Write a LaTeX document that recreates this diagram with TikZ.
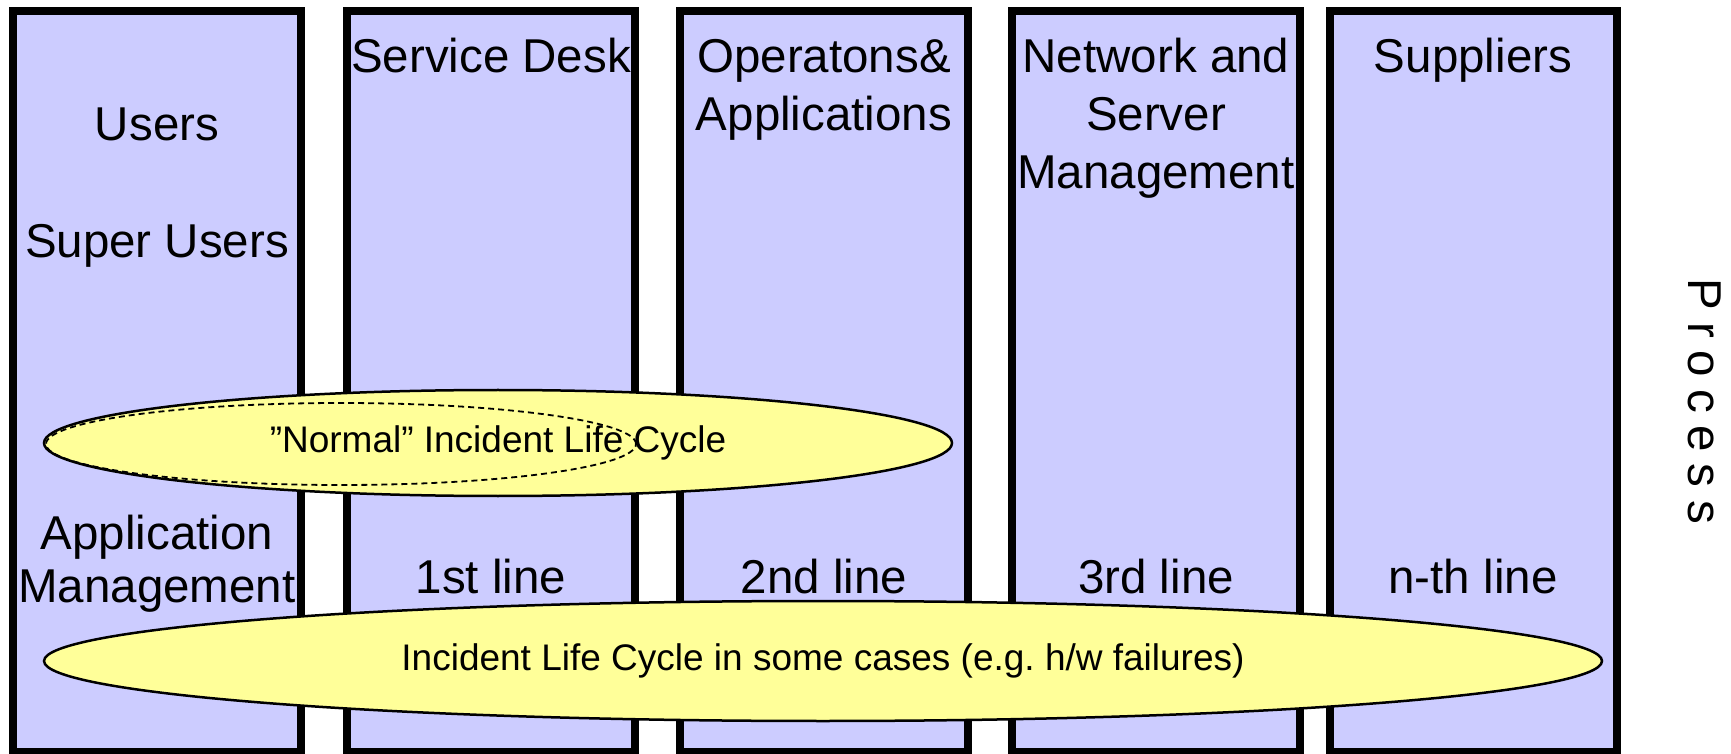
\documentclass[tikz,border=0pt]{standalone}
\usepackage{fontspec}
\setmainfont{Liberation Sans}
\usetikzlibrary{shapes.geometric}
\definecolor{lane}{HTML}{CCCCFF}
\definecolor{cyc}{HTML}{FFFF99}
\frenchspacing
\begin{document}
\begin{tikzpicture}[x=0.5pt,y=-0.5pt,
  lanebox/.style={draw=black,line width=4pt,fill=lane},
  lbl/.style={inner sep=0pt,anchor=base,font=\fontsize{23.75}{29}\selectfont},
  cyc/.style={ellipse,draw=black,line width=1.25pt,fill=cyc,inner sep=0pt,font=\fontsize{18.5}{22}\selectfont},
  dashring/.style={ellipse,draw=black,dash pattern=on 3pt off 2pt,line width=0.9pt,inner sep=0pt}]
\path[use as bounding box,clip] (0,0) rectangle (1731,754);
\fill[white] (0,0) rectangle (1731,754);
\foreach \l/\r in {13/301,347/635,680/968,1012/1300,1330/1617}
  \draw[lanebox] (\l,11.5) rectangle (\r,752);
% column labels
\node[lbl] (users) at (157,141) {Users};
\node[lbl] (super) at (157,258) {Super Users};
\node[lbl] (app1) at (157,549) {Application};
\node[lbl] (app2) at (157,602) {Management};
\node[lbl] (sd) at (491,73) {Service Desk};
\node[lbl] (op1) at (824,73) {Operatons\&};
\node[lbl] (op2) at (824,131) {Applications};
\node[lbl] (nw1) at (1156,73) {Network and};
\node[lbl] (nw2) at (1156,131) {Server};
\node[lbl] (nw3) at (1156,189) {Management};
\node[lbl] (sup) at (1473,73) {Suppliers};
\node[lbl] (l1) at (491,593) {1st line};
\node[lbl] (l2) at (824,593) {2nd line};
\node[lbl] (l3) at (1156,593) {3rd line};
\node[lbl] (ln) at (1473,593) {n-th line};
\node[lbl,rotate=-90] (proc) at (1688,401) {\addfontfeature{LetterSpace=26}Process};
% cycles
\node[cyc,minimum width=454pt,minimum height=53pt] (normal) at (498,443) {”Normal” Incident Life Cycle};
\node[dashring,minimum width=295pt,minimum height=41pt] (normalin) at (341,444) {};
\node[cyc,minimum width=779pt,minimum height=60pt] (some) at (823,661) {Incident Life Cycle in some cases (e.g. h/w failures)};
\end{tikzpicture}
\end{document}
